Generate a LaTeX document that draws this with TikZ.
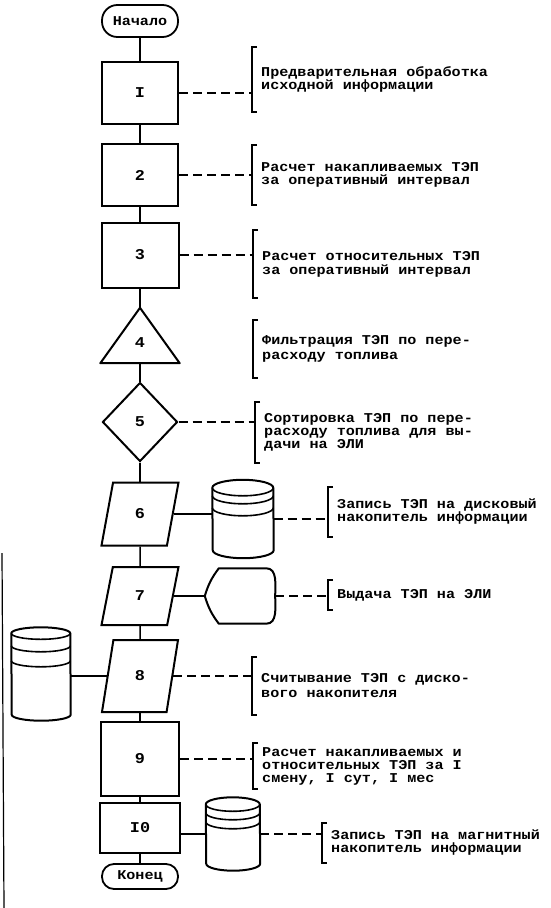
\documentclass[tikz,border=0pt]{standalone}
\usepackage{fontspec}
\setmonofont{Liberation Mono}[FakeStretch=1.12]
\usetikzlibrary{shapes.geometric,calc}
\newcommand{\typefont}[1]{\fontsize{13.5}{#1}\selectfont\ttfamily\bfseries}
\tikzset{
  block/.style={draw, line width=2pt, minimum width=#1, inner sep=0pt, font=\typefont{15pt}\fontsize{15}{15}\selectfont},
  term/.style={draw, line width=1.8pt, minimum width=76pt, minimum height=#1, rounded corners=0.48*#1, inner sep=0pt, font=\typefont{12pt}},
  io/.style={trapezium, trapezium left angle=78, trapezium right angle=102, trapezium stretches=true, draw, line width=2pt, minimum width=77pt, minimum height=#1, inner sep=0pt, font=\typefont{15pt}\fontsize{15}{15}\selectfont},
  hollow/.style={inner sep=0pt, font=\typefont{15pt}\fontsize{15}{15}\selectfont},
  note/.style 2 args={anchor=west, align=left, inner xsep=9pt, inner ysep=0pt, minimum height=#1, font=\typefont{#2}},
  link/.style={line width=1.5pt},
  dashlink/.style={line width=1.3pt, dash pattern=on 9pt off 5pt},
  bracket/.style={line width=1.6pt},
  outline/.style={line width=2pt, line join=round},
  band/.style={line width=1.6pt}
}
\begin{document}
\begin{tikzpicture}[x=1pt,y=-1pt]
\useasboundingbox (0,0) rectangle (550,908);
\node[term=32pt] (start) at (140,21) {Начало};
\node[block=76pt, minimum height=62pt] (b1) at (140,93) {I};
\node[block=76pt, minimum height=62pt] (b2) at (140,175) {2};
\node[block=77pt, minimum height=65pt] (b3) at (140,255) {3};
\node[hollow, minimum width=79pt, minimum height=55pt, text height=24pt] (t4) at (140,335.5) {4};
\draw[outline] (t4.south west) -- (t4.north) -- (t4.south east) -- cycle;
\node[diamond, draw, line width=2pt, minimum width=75pt, minimum height=79pt, inner sep=0pt, font=\typefont{15pt}\fontsize{15}{15}\selectfont] (d5) at (140,422) {5};
\node[io=63pt] (p6) at (140,514) {6};
\node[hollow, minimum width=61pt, minimum height=78pt] (c6) at (243,519) {};
\draw[outline] ([yshift=-8pt]c6.north west) arc[start angle=180, end angle=0, x radius=30.5pt, y radius=8pt]
  -- ([yshift=8pt]c6.south east) arc[start angle=0, end angle=-180, x radius=30.5pt, y radius=8pt] -- cycle;
\draw[band] ([yshift=-8pt]c6.north west) arc[start angle=180, end angle=360, x radius=30.5pt, y radius=8pt];
\draw[band] ([yshift=-16pt]c6.north west) arc[start angle=180, end angle=360, x radius=30.5pt, y radius=8pt];
\draw[band] ([yshift=-28pt]c6.north west) arc[start angle=180, end angle=360, x radius=30.5pt, y radius=8pt];
\node[io=58pt] (p7) at (140,596) {7};
\node[hollow, minimum width=70pt, minimum height=55pt] (d7) at (240,596) {};
\draw[outline] (d7.west) to[bend left=10] ([xshift=14pt]d7.north west) -- ([xshift=-9pt]d7.north east)
  to[out=0,in=90] (d7.east) to[out=-90,in=0] ([xshift=-9pt]d7.south east) -- ([xshift=14pt]d7.south west)
  to[bend left=10] (d7.west);
\node[io=72pt, minimum width=76pt] (p8) at (140,676) {8};
\node[hollow, minimum width=59pt, minimum height=93pt] (c8) at (41,674) {};
\draw[outline] ([yshift=-6pt]c8.north west) arc[start angle=180, end angle=0, x radius=29.5pt, y radius=6pt]
  -- ([yshift=6pt]c8.south east) arc[start angle=0, end angle=-180, x radius=29.5pt, y radius=6pt] -- cycle;
\draw[band] ([yshift=-6pt]c8.north west) arc[start angle=180, end angle=360, x radius=29.5pt, y radius=6pt];
\draw[band] ([yshift=-18.5pt]c8.north west) arc[start angle=180, end angle=360, x radius=29.5pt, y radius=6pt];
\draw[band] ([yshift=-33.5pt]c8.north west) arc[start angle=180, end angle=360, x radius=29.5pt, y radius=6pt];
\node[block=78pt, minimum height=74pt] (b9) at (140,759) {9};
\node[block=80pt, minimum height=50pt] (b10) at (140,828) {I0};
\node[hollow, minimum width=54pt, minimum height=73pt] (c10) at (233,834) {};
\draw[outline] ([yshift=-7pt]c10.north west) arc[start angle=180, end angle=0, x radius=27pt, y radius=7pt]
  -- ([yshift=7pt]c10.south east) arc[start angle=0, end angle=-180, x radius=27pt, y radius=7pt] -- cycle;
\draw[band] ([yshift=-7pt]c10.north west) arc[start angle=180, end angle=360, x radius=27pt, y radius=7pt];
\draw[band] ([yshift=-15.5pt]c10.north west) arc[start angle=180, end angle=360, x radius=27pt, y radius=7pt];
\draw[band] ([yshift=-24.5pt]c10.north west) arc[start angle=180, end angle=360, x radius=27pt, y radius=7pt];
\node[term=25pt] (stop) at (140,876.5) {Конец};
\draw[link] (start) -- (b1);
\draw[link] (b1) -- (b2);
\draw[link] (b2) -- (b3);
\draw[link] (b3) -- (t4);
\draw[link] (t4) -- (d5);
\draw[link] (d5) -- (p6);
\draw[link] (p6) -- (p7);
\draw[link] (p7) -- (p8);
\draw[link] (p8) -- (b9);
\draw[link] (b9) -- (b10);
\draw[link] (b10) -- (stop);
\draw[link] (p6.east) -- (p6.east -| c6.west);
\draw[link] (p7.east) -- (p7.east -| d7.west);
\draw[link] (p8.west) -- (p8.west -| c8.east);
\draw[link] (c10.west) -- (c10.west -| b10.east);

\node[note={65pt}{13pt}] (n1) at (252,79.5) {Предварительная обработка\\исходной информации};
\node[note={60pt}{13pt}] (n2) at (252,175) {Расчет накапливаемых ТЭП\\за оперативный интервал};
\node[note={68pt}{14pt}] (n3) at (253,264) {Расчет относительных ТЭП\\за оперативный интервал};
\node[note={58pt}{15pt}] (n4) at (253,349) {Фильтрация ТЭП по пере-\\расходу топлива};
\node[note={61pt}{13pt}] (n5) at (255,432.5) {Сортировка ТЭП по пере-\\расходу топлива для вы-\\дачи на ЭЛИ};
\node[note={50pt}{13pt}] (n6) at (328,512) {Запись ТЭП на дисковый\\накопитель информации};
\node[note={30pt}{13pt}] (n7) at (328,595) {Выдача ТЭП на ЭЛИ};
\node[note={58pt}{15pt}] (n8) at (252,686) {Считывание ТЭП с диско-\\вого накопителя};
\node[note={46pt}{13pt}] (n9) at (253,766) {Расчет накапливаемых и\\относительных ТЭП за I\\смену, I сут, I мес};
\node[note={40pt}{13pt}] (n10) at (322,843) {Запись ТЭП на магнитный\\накопитель информации};
\draw[bracket] ([xshift=5pt]n1.north west) -| (n1.south west) -- ++(5pt,0);
\draw[bracket] ([xshift=5pt]n2.north west) -| (n2.south west) -- ++(5pt,0);
\draw[bracket] ([xshift=5pt]n3.north west) -| (n3.south west) -- ++(5pt,0);
\draw[bracket] ([xshift=5pt]n4.north west) -| (n4.south west) -- ++(5pt,0);
\draw[bracket] ([xshift=5pt]n5.north west) -| (n5.south west) -- ++(5pt,0);
\draw[bracket] ([xshift=5pt]n6.north west) -| (n6.south west) -- ++(5pt,0);
\draw[bracket] ([xshift=5pt]n7.north west) -| (n7.south west) -- ++(5pt,0);
\draw[bracket] ([xshift=5pt]n8.north west) -| (n8.south west) -- ++(5pt,0);
\draw[bracket] ([xshift=5pt]n9.north west) -| (n9.south west) -- ++(5pt,0);
\draw[bracket] ([xshift=5pt]n10.north west) -| (n10.south west) -- ++(5pt,0);
\draw[dashlink] (b1.east) -- (b1.east -| n1.west);
\draw[dashlink] (b2.east) -- (b2.east -| n2.west);
\draw[dashlink] (b3.east) -- (b3.east -| n3.west);
\draw[dashlink] ($(t4.north)!0.5!(t4.south east)$) -- ($(t4.north)!0.5!(t4.south east)$ -| n4.west);
\draw[dashlink] (d5.east) -- (d5.east -| n5.west);
\draw[dashlink] (c6.east) -- (c6.east -| n6.west);
\draw[dashlink] (d7.east) -- (d7.east -| n7.west);
\draw[dashlink] (p8.east) -- (p8.east -| n8.west);
\draw[dashlink] (b9.east) -- (b9.east -| n9.west);
\draw[dashlink] (c10.east) -- (c10.east -| n10.west);
\draw[line width=1.2pt] (2,553) -- (4,908);
\end{tikzpicture}
\end{document}
